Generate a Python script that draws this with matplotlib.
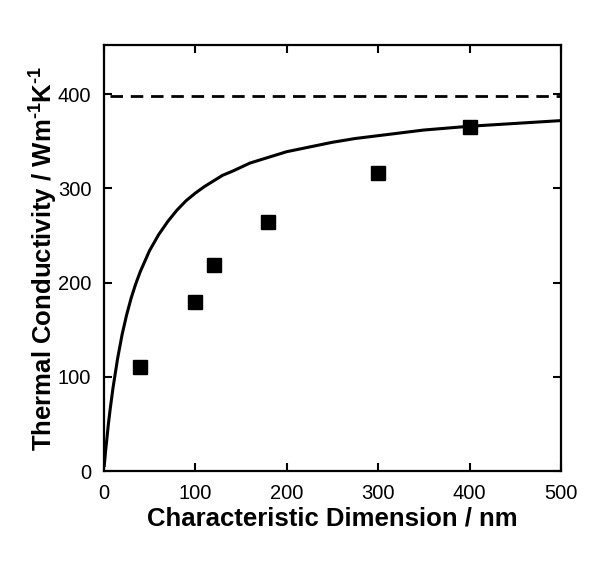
import matplotlib
matplotlib.use('Agg')
import matplotlib.pyplot as plt

plt.rcParams['font.family'] = ['Liberation Sans', 'DejaVu Sans']
plt.rcParams['mathtext.fontset'] = 'custom'
plt.rcParams['mathtext.bf'] = 'Liberation Sans:bold'
plt.rcParams['mathtext.rm'] = 'Liberation Sans:bold'
plt.rcParams['mathtext.default'] = 'bf'

# measured points
dim_nm = [40, 100, 120, 180, 300, 400]
k_meas = [111, 180, 219, 264, 316, 365]

# model curve
curve_nm = [0.5, 1, 2, 3, 5, 7, 10, 15, 20, 25, 30, 35, 40, 50, 60, 70, 80, 90, 100, 110,
            120, 130, 140, 160, 180, 200, 225, 250, 275, 300, 350, 400, 450, 500]
curve_k = [6, 11, 22, 31, 50, 66, 88, 119, 145, 166, 184, 199, 212, 234, 251, 265, 277, 287,
           295, 302, 308, 314, 318, 327, 333, 339, 344, 349, 353, 356, 362, 366, 369, 372]

# bulk value
k_bulk = 398

fig = plt.figure(figsize=(6, 5.65), dpi=100)
ax = fig.add_axes([0.173, 0.166, 0.762, 0.754])

ax.plot(curve_nm, curve_k, color='black', lw=2.2)
ax.hlines(k_bulk, 7, 500, colors='black', lw=2, linestyles=(0, (4.5, 2.8)))
ax.plot(dim_nm, k_meas, 's', color='black', markersize=9.5)

ax.set_xlim(0, 500)
ax.set_ylim(0, 452)
ax.set_xticks([0, 100, 200, 300, 400, 500])
ax.set_yticks([0, 100, 200, 300, 400])

for s in ax.spines.values():
    s.set_linewidth(1.6)
ax.tick_params(direction='in', length=6, width=1.5, labelsize=14.5,
               top=True, right=True, pad=9)

ax.set_xlabel('Characteristic Dimension / nm', fontsize=18.5, fontweight='bold', labelpad=3)
ax.set_ylabel(r'Thermal Conductivity / Wm$^{\text{-1}}$K$^{\text{-1}}$', fontsize=18.5,
              fontweight='bold')
ax.yaxis.set_label_coords(-0.095, 0.5)

fig.savefig('out.png', dpi=100)
plt.close()
